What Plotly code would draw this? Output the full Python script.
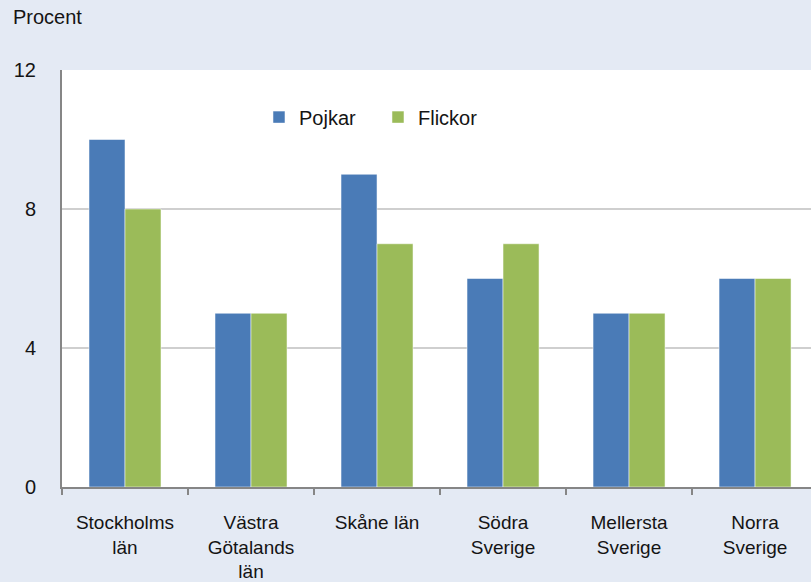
import plotly.graph_objects as go

categories = ["Stockholms<br>län", "Västra<br>Götalands<br>län", "Skåne län",
              "Södra<br>Sverige", "Mellersta<br>Sverige", "Norra<br>Sverige"]
pojkar = [10, 5, 9, 6, 5, 6]
flickor = [8, 5, 7, 7, 5, 6]
y_ticks = [0, 4, 8, 12]

BG = "#e4eaf4"
FONT = "Liberation Sans, Arial, Helvetica, sans-serif"
TXT = "#141414"

fig = go.Figure()
fig.add_trace(go.Bar(x=categories, y=pojkar, name="Pojkar",
                     marker=dict(color="#4a7bb7", line=dict(color="rgba(255,255,255,0.5)", width=1))))
fig.add_trace(go.Bar(x=categories, y=flickor, name="Flickor",
                     marker=dict(color="#9bbb59", line=dict(color="rgba(255,255,255,0.5)", width=1))))

fig.update_layout(
    width=811, height=582,
    paper_bgcolor=BG, plot_bgcolor="white",
    margin=dict(l=62, r=0, t=70, b=95),
    barmode="group", bargap=0.4286, bargroupgap=0,
    font=dict(family=FONT, size=20, color=TXT),
    title=dict(text="Procent", x=13/811, xref="container", xanchor="left",
               y=1-17/582, yref="container", yanchor="middle",
               font=dict(family=FONT, size=20, color=TXT)),
    legend=dict(orientation="h", x=0.263, xanchor="left", y=0.887, yanchor="middle",
                bgcolor="rgba(0,0,0,0)", font=dict(family=FONT, size=20, color=TXT),
                entrywidth=74, entrywidthmode="pixels", itemwidth=30),
    showlegend=True,
)
fig.update_xaxes(
    type="category", range=[-0.5, 5.444], automargin=False,
    showline=True, linecolor="#868686", linewidth=2,
    ticks="outside", tickson="boundaries", ticklen=6, tickcolor="#868686", tickwidth=2,
    showgrid=False, tickangle=0, ticklabelstandoff=17,
    tickfont=dict(family=FONT, size=19, color=TXT),
)
fig.update_yaxes(
    range=[0, 12], tickvals=y_ticks, automargin=False,
    showline=True, linecolor="#868686", linewidth=2,
    showgrid=True, gridcolor="#cfcfcf", gridwidth=2,
    ticks="", ticklabelstandoff=20, zeroline=False,
    tickfont=dict(family=FONT, size=20, color=TXT),
)

fig.write_html("out.html", config={"displayModeBar": False},
               post_script="document.body.style.margin='0';")
